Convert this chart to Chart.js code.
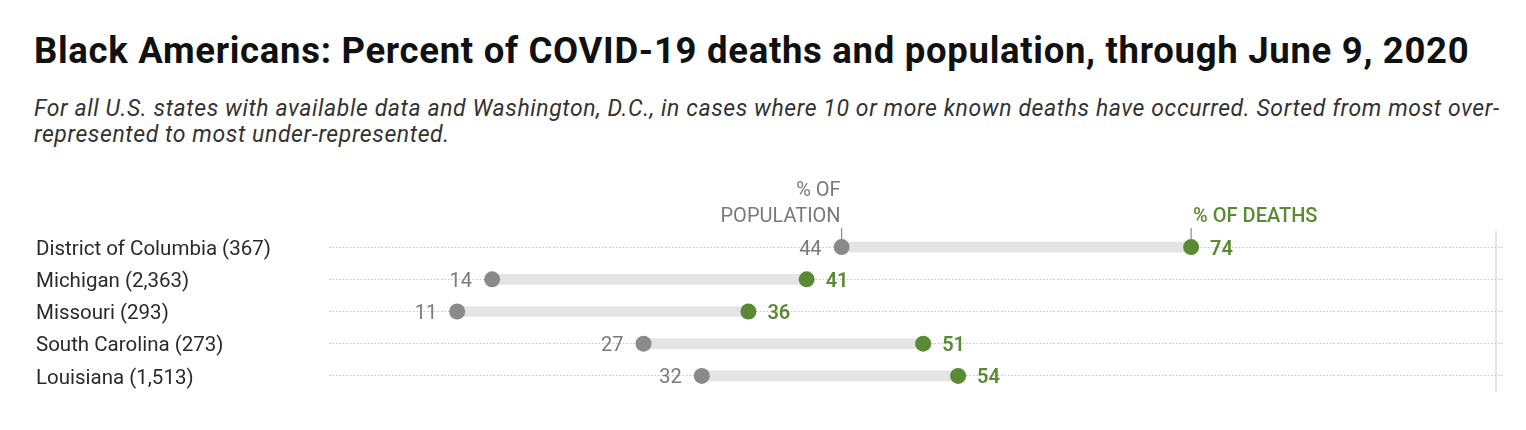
<!DOCTYPE html>
<html>
<head>
<meta charset="utf-8">
<script src="https://cdn.jsdelivr.net/npm/chart.js@4"></script>
<style>
  html, body { margin:0; padding:0; background:#fff; width:1526px; height:430px; overflow:hidden; }
  body { position:relative; font-family: Roboto, "Noto Sans", sans-serif; }
  #title { position:absolute; left:34px; top:29px; font-size:36.5px; line-height:44px; letter-spacing:0.7px; font-weight:bold; color:#111; white-space:nowrap; }
  #sub { position:absolute; left:34px; top:96px; font-size:23px; line-height:26px; letter-spacing:0.6px; font-style:italic; color:#333; white-space:nowrap; }
  #wrap { position:absolute; left:0; top:170px; width:1526px; height:260px; }
</style>
</head>
<body>
<div id="title">Black Americans: Percent of COVID-19 deaths and population, through June 9, 2020</div>
<div id="sub">For all U.S. states with available data and Washington, D.C., in cases where 10 or more known deaths have occurred. Sorted from most over-<br>represented to most under-represented.</div>
<div id="wrap"><canvas id="c"></canvas></div>
<script>
const categories = ["District of Columbia (367)", "Michigan (2,363)", "Missouri (293)", "South Carolina (273)", "Louisiana (1,513)"];
const populationPct = [44, 14, 11, 27, 32];
const deathsPct = [74, 41, 36, 51, 54];
const headerPopulation = ["% OF", "POPULATION"];
const headerDeaths = "% OF DEATHS";

const GRAY = "#8a8a8a";
const GRAY_TEXT = "#7a7a7a";
const GREEN = "#5b8a34";

const labelPlugin = {
  id: "labels",
  afterDatasetsDraw(chart) {
    const ctx = chart.ctx;
    const xs = chart.scales.x, ys = chart.scales.y;
    ctx.save();
    ctx.textBaseline = "middle";
    populationPct.forEach((v, i) => {
      const y = ys.getPixelForValue(i) + 2.5;
      ctx.font = "20px Roboto";
      ctx.fillStyle = GRAY_TEXT;
      ctx.textAlign = "right";
      ctx.fillText(String(v), xs.getPixelForValue(v) - 20, y);
      const d = deathsPct[i];
      ctx.font = "600 20px Roboto";
      ctx.fillStyle = GREEN;
      ctx.textAlign = "left";
      ctx.fillText(String(d), xs.getPixelForValue(d) + 19, y);
    });
    // header annotations for first row
    const y0 = ys.getPixelForValue(0);
    const px = xs.getPixelForValue(populationPct[0]);
    const dx = xs.getPixelForValue(deathsPct[0]);
    ctx.font = "20px Roboto";
    ctx.fillStyle = GRAY_TEXT;
    ctx.textAlign = "right";
    ctx.fillText(headerPopulation[0], px - 1, y0 - 56);
    ctx.fillText(headerPopulation[1], px - 1, y0 - 30);
    ctx.font = "500 20px Roboto";
    ctx.fillStyle = GREEN;
    ctx.textAlign = "left";
    ctx.fillText(headerDeaths, dx + 2, y0 - 30);
    ctx.lineWidth = 1.2;
    ctx.strokeStyle = GRAY;
    ctx.beginPath(); ctx.moveTo(px, y0 - 19); ctx.lineTo(px, y0 - 7); ctx.stroke();
    ctx.beginPath(); ctx.moveTo(dx, y0 - 19); ctx.lineTo(dx, y0 - 7); ctx.stroke();
    ctx.restore();
  }
};

new Chart(document.getElementById("c"), {
  type: "bar",
  data: {
    labels: categories,
    datasets: [
      {
        type: "bar",
        indexAxis: "y",
        data: populationPct.map((v, i) => [v, deathsPct[i]]),
        backgroundColor: "#e4e4e4",
        borderWidth: 0,
        barThickness: 10,
        order: 3
      },
      {
        type: "line",
        indexAxis: "y",
        data: populationPct,
        showLine: false,
        pointRadius: 8,
        pointHoverRadius: 8,
        pointBackgroundColor: GRAY,
        pointBorderWidth: 0,
        order: 2
      },
      {
        type: "line",
        indexAxis: "y",
        data: deathsPct,
        showLine: false,
        pointRadius: 8,
        pointHoverRadius: 8,
        pointBackgroundColor: GREEN,
        pointBorderWidth: 0,
        order: 1
      }
    ]
  },
  options: {
    indexAxis: "y",
    responsive: true,
    maintainAspectRatio: false,
    animation: false,
    events: [],
    layout: { padding: { left: 36, right: 23, top: 61, bottom: 38 } },
    plugins: { legend: { display: false }, tooltip: { enabled: false }, title: { display: false } },
    scales: {
      x: {
        type: "linear",
        min: 0,
        max: 100.77,
        afterBuildTicks(scale) { scale.ticks = [{ value: 100.15 }]; },
        ticks: { display: false },
        border: { display: false },
        grid: { drawTicks: false, color: "#e6e6e6", lineWidth: 2 }
      },
      y: {
        type: "category",
        offset: true,
        afterFit(scale) { scale.width = 293; },
        border: { display: false, dash: [1.5, 2] },
        grid: { offset: false, drawTicks: false, color: "#c4c4c4", lineWidth: 1 },
        ticks: {
          crossAlign: "far",
          padding: 0,
          labelOffset: 2.5,
          color: "#2a2a2a",
          font: { family: "Roboto", size: 20.5 }
        }
      }
    }
  },
  plugins: [labelPlugin]
});
</script>
</body>
</html>
